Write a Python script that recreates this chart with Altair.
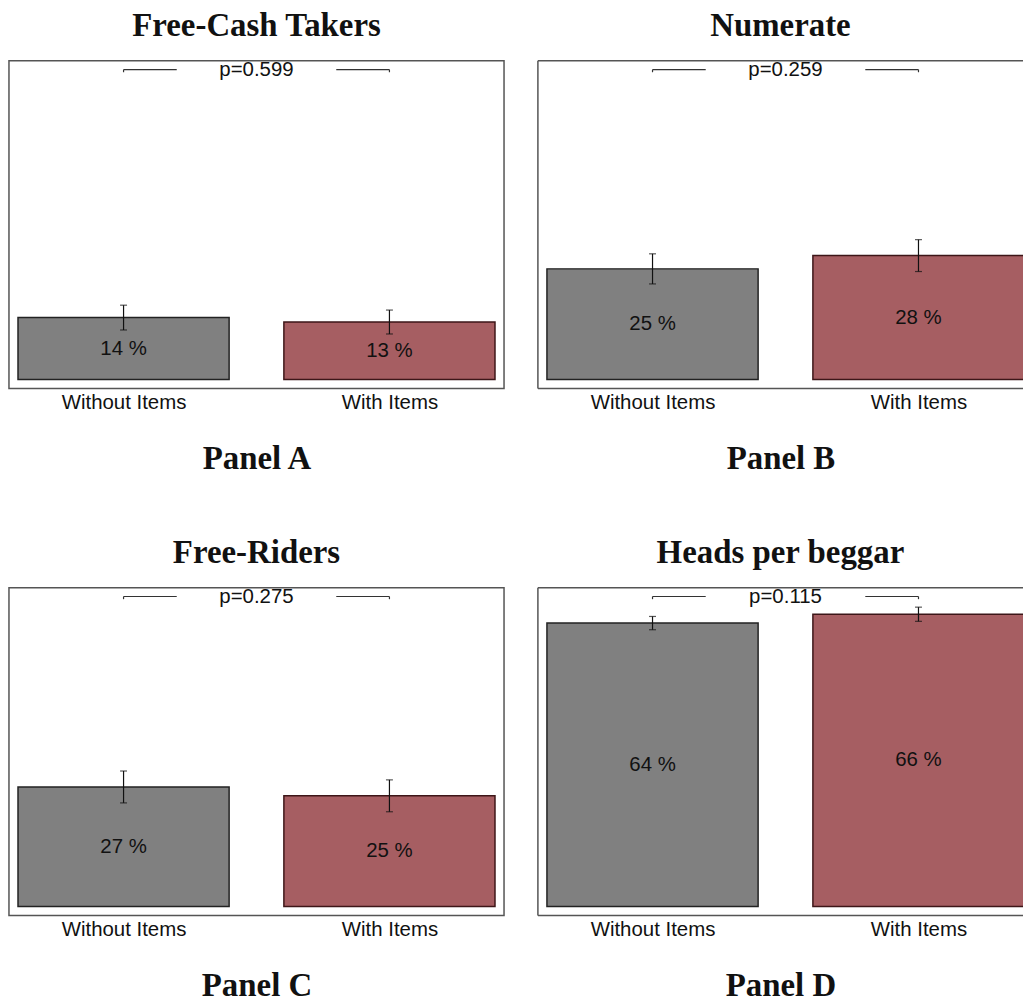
import altair as alt
import pandas as pd

# Two treatment groups shown in every panel
groups = ["Without Items", "With Items"]
group_idx = [0, 1]

# Panel contents: title, caption, shares (%), standard-error half widths (%), p-value
titles = ["Free-Cash Takers", "Numerate", "Free-Riders", "Heads per beggar"]
captions = ["Panel A", "Panel B", "Panel C", "Panel D"]
shares = [[14, 13], [25, 28], [27, 25], [64, 66]]
errors = [[2.8, 2.7], [3.4, 3.6], [3.6, 3.6], [1.5, 1.6]]
pvalues = ["p=0.599", "p=0.259", "p=0.275", "p=0.115"]

# Significance bracket level (%) and the share of the span left open for the p text
bracket_level = 70
bracket_drop = 0.6
bracket_gap = 0.3

fill_colors = ["#808080", "#a65e62"]
edge_colors = ["#222222", "#3d1618"]

PANEL_H = 329
BAR_HALF = 0.397
Y_DOMAIN = [-2, 72]
# Left column shows the full frame; the right column runs off the page edge
LEFT_W, LEFT_X = 497, [-0.431, 1.431]
RIGHT_W, RIGHT_X = 487, [-0.431, 1.393]

SANS = "Liberation Sans"
SERIF = "Liberation Serif"
FRAME = "#555555"

label_expr = " : ".join(
    f"datum.value == {i} ? '{g}'" for i, g in zip(group_idx, groups)
) + " : ''"


def panel(k, width, x_domain, open_right):
    bars = pd.DataFrame({
        "group": groups,
        "idx": group_idx,
        "left": [i - BAR_HALF for i in group_idx],
        "right": [i + BAR_HALF for i in group_idx],
        "base": [0, 0],
        "share": shares[k],
        "mid": [s / 2 for s in shares[k]],
        "lo": [s - e for s, e in zip(shares[k], errors[k])],
        "hi": [s + e for s, e in zip(shares[k], errors[k])],
        "label": [f"{s} %" for s in shares[k]],
    })
    centre = sum(group_idx) / len(group_idx)
    span = group_idx[1] - group_idx[0]
    bracket = pd.DataFrame({
        "x": [group_idx[0], centre + bracket_gap * span],
        "x2": [centre - bracket_gap * span, group_idx[1]],
        "y": [bracket_level, bracket_level],
    })
    ends = pd.DataFrame({
        "x": group_idx,
        "y": [bracket_level] * 2,
        "y2": [bracket_level - bracket_drop] * 2,
    })
    ptext = pd.DataFrame({"x": [centre], "y": [bracket_level], "p": [pvalues[k]]})

    xs = alt.Scale(domain=x_domain, nice=False, zero=False)
    ys = alt.Scale(domain=Y_DOMAIN, nice=False, zero=False)
    x_axis = alt.Axis(
        values=group_idx, labelExpr=label_expr, domain=False, ticks=False,
        grid=False, labelFont=SANS, labelFontSize=20.5, labelColor="#111",
        labelPadding=4, title=captions[k], titleFont=SERIF,
        titleFontSize=33, titleFontWeight="bold", titleColor="#111",
        titlePadding=30,
    )

    bar_layer = alt.Chart(bars).mark_bar(strokeWidth=1.5, clip=True).encode(
        x=alt.X("left:Q", scale=xs, axis=x_axis),
        x2="right:Q",
        y=alt.Y("share:Q", scale=ys, axis=None),
        y2="base:Q",
        fill=alt.Fill("group:N", scale=alt.Scale(domain=groups, range=fill_colors), legend=None),
        stroke=alt.Stroke("group:N", scale=alt.Scale(domain=groups, range=edge_colors), legend=None),
    )
    text_layer = alt.Chart(bars).mark_text(
        font=SANS, fontSize=20.5, color="#111", baseline="middle"
    ).encode(x="idx:Q", y="mid:Q", text="label:N")
    err_rule = alt.Chart(bars).mark_rule(color="#111", strokeWidth=1.2).encode(
        x="idx:Q", y="lo:Q", y2="hi:Q"
    )
    cap_lo = alt.Chart(bars).mark_tick(
        orient="horizontal", size=7, thickness=1.2, color="#111"
    ).encode(x="idx:Q", y="lo:Q")
    cap_hi = alt.Chart(bars).mark_tick(
        orient="horizontal", size=7, thickness=1.2, color="#111"
    ).encode(x="idx:Q", y="hi:Q")
    br = alt.Chart(bracket).mark_rule(color="#333", strokeWidth=1.2).encode(
        x="x:Q", x2="x2:Q", y="y:Q"
    )
    br_ends = alt.Chart(ends).mark_rule(color="#333", strokeWidth=1.2).encode(
        x="x:Q", y="y:Q", y2="y2:Q"
    )
    p_layer = alt.Chart(ptext).mark_text(
        font=SANS, fontSize=20.5, color="#111", baseline="middle"
    ).encode(x="x:Q", y="y:Q", text="p:N")

    layers = [bar_layer, text_layer, err_rule, cap_lo, cap_hi, br, br_ends, p_layer]
    view = alt.ViewBackground(stroke=FRAME, strokeWidth=1.5)
    if open_right:
        # Frame drawn on three sides only: top, bottom and left edges of the domain
        edges = pd.DataFrame({
            "x": [x_domain[0], x_domain[0], x_domain[0]],
            "x2": [x_domain[1], x_domain[1], x_domain[0]],
            "y": [Y_DOMAIN[1], Y_DOMAIN[0], Y_DOMAIN[0]],
            "y2": [Y_DOMAIN[1], Y_DOMAIN[0], Y_DOMAIN[1]],
        })
        frame = alt.Chart(edges).mark_rule(color=FRAME, strokeWidth=1.5).encode(
            x="x:Q", x2="x2:Q", y="y:Q", y2="y2:Q"
        )
        layers.append(frame)
        view = alt.ViewBackground(stroke=None, strokeWidth=0)

    return alt.layer(*layers).properties(
        width=width, height=PANEL_H, view=view,
        title=alt.TitleParams(
            titles[k], font=SERIF, fontSize=33, fontWeight="bold",
            color="#111", anchor="middle", offset=17,
        ),
    )


top = alt.hconcat(
    panel(0, LEFT_W, LEFT_X, False), panel(1, RIGHT_W, RIGHT_X, True), spacing=32
)
bottom = alt.hconcat(
    panel(2, LEFT_W, LEFT_X, False), panel(3, RIGHT_W, RIGHT_X, True), spacing=32
)
chart = alt.vconcat(top, bottom, spacing=59).properties(
    padding={"left": 8, "top": 7, "right": 0, "bottom": 0},
    background="white",
).configure_view(stroke=FRAME, strokeWidth=1.5)

chart.save("out.html", embed_options={"renderer": "svg", "actions": False})
